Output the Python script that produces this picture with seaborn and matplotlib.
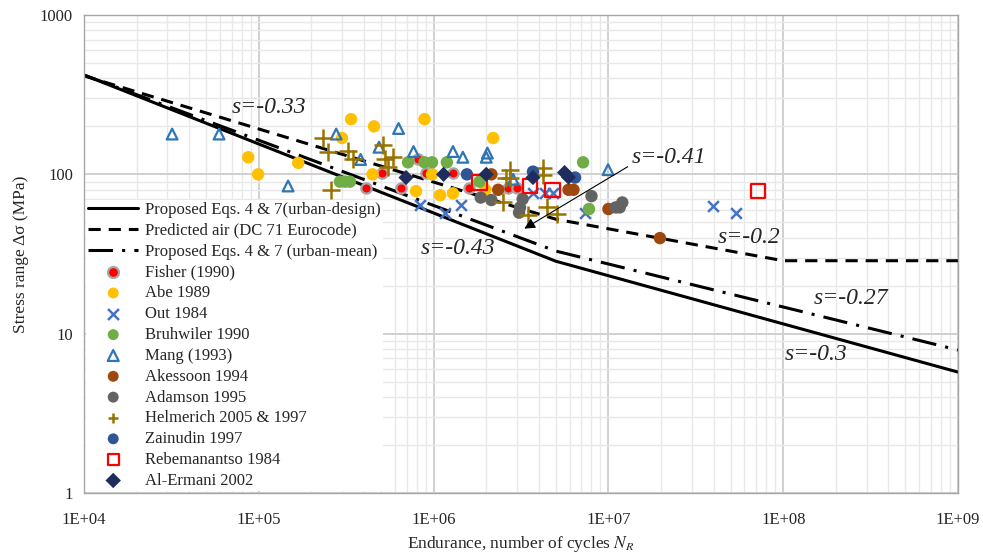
import numpy as np
import pandas as pd
import matplotlib
matplotlib.use("Agg")
import matplotlib.pyplot as plt
import matplotlib.ticker as mticker
from matplotlib.collections import PathCollection
import seaborn as sns

# ─────────────────────────────────────────────
# Data
# ─────────────────────────────────────────────
# design curves: (N, stress range)
design_N = [1e4, 5e6, 1e9]
design_S = [420, 28.5, 5.74]
eurocode_N = [1e4, 5e6, 1e8, 1e9]
eurocode_S = [415, 52.3, 28.7, 28.7]
mean_N = [1e4, 5e6, 1e9]
mean_S = [420, 33.0, 7.9]

fisher_N = [4.11e5, 5.07e5, 6.51e5, 8.14e5, 9.10e5, 1.29e6, 1.59e6, 2.65e6, 3.00e6]
fisher_S = [82.6, 102.6, 82.6, 124, 102.6, 102.6, 82.6, 82.6, 82.6]

abe_N = [8.7e4, 9.9e4, 1.68e5, 2.99e5, 3.37e5, 4.47e5, 4.56e5, 7.93e5, 8.87e5,
         9.79e5, 1.09e6, 1.29e6, 1.98e6, 2.19e6]
abe_S = [128, 100, 118, 169, 222, 100, 200, 78.5, 222, 100, 74, 76, 80, 169]

out_N = [8.41e5, 1.16e6, 1.44e6, 3.70e6, 4.34e6, 4.79e6, 7.35e6, 3.94e7, 5.37e7]
out_S = [64.6, 57.5, 64.6, 76.3, 76.3, 76.3, 57.5, 63.2, 57.5]

bruh_N = [2.91e5, 3.11e5, 3.32e5, 7.14e5, 8.87e5, 9.79e5, 1.19e6, 1.83e6, 7.16e6, 7.74e6]
bruh_S = [90, 90, 90, 119, 119, 119, 119, 90, 119, 60.6]

mang_N = [3.19e4, 5.92e4, 1.47e5, 2.77e5, 3.82e5, 4.87e5, 6.30e5, 7.67e5, 1.29e6,
          1.47e6, 2.03e6, 2.00e6, 2.85e6, 9.95e6]
mang_S = [179, 179, 84.5, 179, 124, 148, 194, 139, 139, 128, 136, 128, 93, 107]

akes_N = [2.14e6, 2.34e6, 5.91e6, 6.31e6, 1.0e7, 1.97e7]
akes_S = [100, 80, 80, 80, 60.6, 39.8]

adam_N = [1.86e6, 2.14e6, 3.08e6, 3.12e6, 3.23e6, 8.0e6, 1.10e7, 1.16e7, 1.20e7]
adam_S = [71.5, 69, 57.5, 62, 70, 73, 62, 62, 66.6]

helm_N = [2.33e5, 2.49e5, 2.59e5, 3.24e5, 3.44e5, 5.14e5, 5.27e5, 5.48e5, 5.82e5,
          2.49e6, 2.60e6, 2.72e6, 2.72e6, 3.47e6, 4.25e6, 4.25e6, 4.48e6, 5.05e6]
helm_S = [169, 139, 80, 141, 124, 153, 124, 112, 128,
          66.6, 95, 107, 95, 55.9, 110, 99.7, 62, 56]

zain_N = [1.55e6, 3.70e6, 6.44e6]
zain_S = [100, 104, 95.5]

rebe_N = [1.83e6, 3.56e6, 4.79e6, 7.18e7]
rebe_S = [89, 84.5, 80, 78.5]

erm_N = [6.95e5, 1.14e6, 2.00e6, 3.70e6, 5.61e6, 5.91e6]
erm_S = [95.5, 100, 100, 95.5, 102.6, 96]

x_ticks = [1e4, 1e5, 1e6, 1e7, 1e8, 1e9]
y_ticks = [1, 10, 100, 1000]

# ─────────────────────────────────────────────
# Figure
# ─────────────────────────────────────────────
sns.set_style("white")
plt.rcParams["font.family"] = ["Liberation Serif", "DejaVu Serif"]
plt.rcParams["mathtext.fontset"] = "stix"

fig = plt.figure(figsize=(9.83, 5.6), dpi=100)
ax = fig.add_axes([0.0855, 0.1196, 0.8891, 0.8536])

# curves
sns.lineplot(x=design_N, y=design_S, ax=ax, color="black", lw=2.2,
             label="Proposed Eqs. 4 & 7(urban-design)", sort=False)
sns.lineplot(x=eurocode_N, y=eurocode_S, ax=ax, color="black", lw=2.2,
             linestyle=(0, (4, 2.6)), label="Predicted air (DC 71 Eurocode)", sort=False)
sns.lineplot(x=mean_N, y=mean_S, ax=ax, color="black", lw=2.2,
             linestyle=(0, (8, 3, 1, 3)), label="Proposed Eqs. 4 & 7 (urban-mean)", sort=False)

# test data
sns.scatterplot(x=fisher_N, y=fisher_S, ax=ax, marker="o", s=55, color="#FF0000",
                edgecolor="#A6A6A6", linewidth=1.6, label="Fisher (1990)", zorder=3)
sns.scatterplot(x=abe_N, y=abe_S, ax=ax, marker="o", s=80, color="#FFC000",
                edgecolor="none", label="Abe 1989", zorder=3)
sns.scatterplot(x=out_N, y=out_S, ax=ax, marker="x", s=60, color="#4472C4",
                linewidth=1.8, label="Out 1984", zorder=3)
sns.scatterplot(x=bruh_N, y=bruh_S, ax=ax, marker="o", s=80, color="#70AD47",
                edgecolor="none", label="Bruhwiler 1990", zorder=3)
sns.scatterplot(x=mang_N, y=mang_S, ax=ax, marker="^", s=60, facecolor="none",
                edgecolor="#2E75B6", linewidth=1.6, label="Mang (1993)", zorder=3)
sns.scatterplot(x=akes_N, y=akes_S, ax=ax, marker="o", s=80, color="#9E480E",
                edgecolor="none", label="Akessoon 1994", zorder=3)
sns.scatterplot(x=adam_N, y=adam_S, ax=ax, marker="o", s=80, color="#636363",
                edgecolor="none", label="Adamson 1995", zorder=3)
sns.scatterplot(x=helm_N, y=helm_S, ax=ax, marker="+", s=150, color="#997300",
                linewidth=1.8, label="Helmerich 2005 & 1997", zorder=3)
sns.scatterplot(x=zain_N, y=zain_S, ax=ax, marker="o", s=80, color="#2F5597",
                edgecolor="none", label="Zainudin 1997", zorder=3)
sns.scatterplot(x=rebe_N, y=rebe_S, ax=ax, marker="s", s=110, facecolor="none",
                edgecolor="#FF0000", linewidth=1.6, label="Rebemanantso 1984", zorder=3)
sns.scatterplot(x=erm_N, y=erm_S, ax=ax, marker="D", s=60, color="#1F2D5C",
                edgecolor="none", label="Al-Ermani 2002", zorder=3)

# axes
ax.set_xscale("log")
ax.set_yscale("log")
ax.set_xlim(1e4, 1e9)
ax.set_ylim(1, 1000)
ax.set_xticks(x_ticks)
ax.set_yticks(y_ticks)
ax.xaxis.set_major_formatter(mticker.FuncFormatter(lambda v, p: f"1E+{int(round(np.log10(v))):02d}"))
ax.yaxis.set_major_formatter(mticker.FuncFormatter(lambda v, p: f"{int(v)}"))
ax.xaxis.set_minor_locator(mticker.LogLocator(base=10, subs=np.arange(2, 10), numticks=20))
ax.yaxis.set_minor_locator(mticker.LogLocator(base=10, subs=np.arange(2, 10), numticks=20))
ax.xaxis.set_minor_formatter(mticker.NullFormatter())
ax.yaxis.set_minor_formatter(mticker.NullFormatter())
ax.tick_params(which="both", length=0, labelsize=12)
ax.tick_params(axis="x", pad=14)
ax.tick_params(axis="y", pad=8)
ax.grid(which="major", color="#D0D0D0", lw=1.4)
ax.grid(which="minor", color="#E8E8E8", lw=1.0)
ax.set_axisbelow(True)
for sp in ax.spines.values():
    sp.set_color("#A6A6A6")
    sp.set_linewidth(1.0)
    sp.set_zorder(6)

ax.set_xlabel("Endurance, number of cycles $N_R$", fontsize=12.5, labelpad=4)
ax.set_ylabel("Stress range Δσ (MPa)", fontsize=12.5, labelpad=8)

# slope labels
slope_kw = dict(fontsize=17, style="italic", va="center", ha="left", zorder=6)
ax.text(7.0e4, 261, "s=-0.33", **slope_kw)
ax.text(1.36e7, 128, "s=-0.41", **slope_kw)
ax.text(8.4e5, 34.4, "s=-0.43", **slope_kw)
ax.text(4.24e7, 40.4, "s=-0.2", **slope_kw)
ax.text(1.5e8, 16.7, "s=-0.27", **slope_kw)
ax.text(1.02e8, 7.35, "s=-0.3", **slope_kw)
ax.annotate("", xy=(3.2e6, 44.7), xytext=(1.33e7, 114),
            arrowprops=dict(arrowstyle="-|>", color="black", lw=0.8,
                            mutation_scale=16))

handles, labels = ax.get_legend_handles_labels()
leg = ax.legend(handles, labels, loc="lower left", bbox_to_anchor=(0.0, 0.0),
                fontsize=12, frameon=True, fancybox=False, framealpha=1,
                edgecolor="none", handlelength=3.0, handletextpad=0.4,
                labelspacing=0.29, borderaxespad=0.1, borderpad=0.15)
for h in leg.legend_handles:
    if isinstance(h, PathCollection):
        h.set_sizes([62])

plt.savefig("out.png", dpi=100)
